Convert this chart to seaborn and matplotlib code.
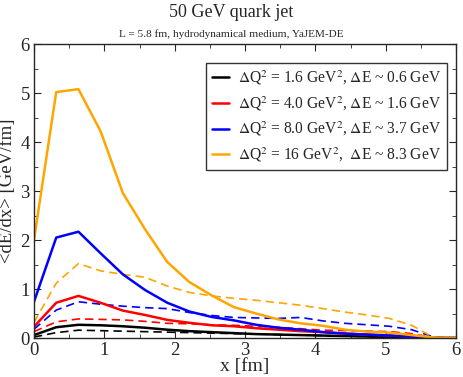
import numpy as np
import pandas as pd
import matplotlib
matplotlib.use('Agg')
import matplotlib.pyplot as plt
import seaborn as sns

# positions along the path [fm]
x_fm = [0.0, 0.316, 0.632, 0.947, 1.263, 1.579, 1.895, 2.211, 2.526, 2.842,
        3.158, 3.474, 3.789, 4.105, 4.421, 4.737, 5.053, 5.368, 5.684, 6.0]

# solid curves
black_solid = [0.06, 0.22, 0.27, 0.26, 0.24, 0.21, 0.17, 0.14, 0.12, 0.10,
               0.08, 0.07, 0.06, 0.05, 0.04, 0.03, 0.02, 0.01, 0.0, 0.0]
red_solid = [0.23, 0.72, 0.86, 0.72, 0.56, 0.47, 0.37, 0.31, 0.26, 0.24,
             0.20, 0.17, 0.14, 0.12, 0.09, 0.07, 0.05, 0.03, 0.0, 0.0]
blue_solid = [0.74, 2.05, 2.17, 1.73, 1.30, 0.98, 0.72, 0.54, 0.43, 0.36,
              0.27, 0.21, 0.17, 0.12, 0.09, 0.07, 0.05, 0.03, 0.0, 0.0]
orange_solid = [2.0, 5.02, 5.08, 4.22, 2.96, 2.22, 1.55, 1.14, 0.87, 0.63,
                0.50, 0.38, 0.30, 0.25, 0.17, 0.13, 0.11, 0.06, 0.01, 0.0]

# dashed curves
black_dashed = [0.02, 0.11, 0.16, 0.15, 0.14, 0.13, 0.12, 0.11, 0.10, 0.09,
                0.08, 0.07, 0.06, 0.05, 0.04, 0.03, 0.02, 0.01, 0.0, 0.0]
red_dashed = [0.13, 0.33, 0.39, 0.38, 0.37, 0.34, 0.30, 0.29, 0.27, 0.26,
              0.24, 0.22, 0.19, 0.16, 0.15, 0.14, 0.13, 0.09, 0.0, 0.0]
blue_dashed = [0.18, 0.57, 0.74, 0.69, 0.65, 0.62, 0.60, 0.52, 0.46, 0.42,
               0.41, 0.40, 0.42, 0.35, 0.30, 0.27, 0.24, 0.17, 0.02, 0.0]
orange_dashed = [0.32, 1.12, 1.52, 1.37, 1.30, 1.24, 1.06, 0.93, 0.86, 0.81,
                 0.77, 0.72, 0.67, 0.60, 0.53, 0.47, 0.40, 0.26, 0.01, 0.0]

labels = [r'$\Delta$Q$^2$ = 1.6 GeV$^2$, $\Delta$E ~ 0.6 GeV',
          r'$\Delta$Q$^2$ = 4.0 GeV$^2$, $\Delta$E ~ 1.6 GeV',
          r'$\Delta$Q$^2$ = 8.0 GeV$^2$, $\Delta$E ~ 3.7 GeV',
          r'$\Delta$Q$^2$ = 16 GeV$^2$,  $\Delta$E ~ 8.3 GeV']
colors = ['black', '#ff0000', '#0000ff', '#ffa500']

sns.set_style('ticks')
plt.rcParams['font.family'] = ['Liberation Serif', 'DejaVu Serif']
plt.rcParams['mathtext.fontset'] = 'stix'

fig = plt.figure(figsize=(4.63, 3.77), dpi=100)
ax = fig.add_axes([0.0734, 0.1034, 0.9116, 0.7796])

solids = [black_solid, red_solid, blue_solid, orange_solid]
dashed = [black_dashed, red_dashed, blue_dashed, orange_dashed]

# dashed first so solid lines sit on top
for ys, c in zip(dashed, colors):
    sns.lineplot(x=x_fm, y=ys, ax=ax, color=c, lw=1.2,
                 linestyle=(0, (5, 3)), legend=False)

handles = []
for ys, c, lab in zip(solids, colors, labels):
    sns.lineplot(x=x_fm, y=ys, ax=ax, color=c, lw=1.8, legend=False)
    handles.append(ax.lines[-1])

ax.set_xlim(0, 6)
ax.set_ylim(0, 6)
ax.set_xticks(range(7))
ax.set_yticks(range(7))
ax.set_xticks(np.arange(0.5, 6, 1), minor=True)
ax.set_yticks(np.arange(0.5, 6, 1), minor=True)
ax.tick_params(which='both', direction='in', top=True, right=True,
               labelsize=13.5, pad=3)
ax.tick_params(which='major', length=5)
ax.tick_params(which='minor', length=3)
for sp in ax.spines.values():
    sp.set_visible(True)
    sp.set_linewidth(1.0)

ax.set_xlabel('x [fm]', fontsize=14, labelpad=-1)
ax.set_ylabel('<dE/dx> [GeV/fm]', fontsize=13.5, labelpad=3)

leg = ax.legend(handles, labels, loc='upper right', bbox_to_anchor=(0.978, 0.935),
                fontsize=11.2, frameon=True, fancybox=False, handlelength=1.1,
                handletextpad=0.6, borderpad=0.35, labelspacing=0.45,
                borderaxespad=0)
leg.get_frame().set_edgecolor('black')
leg.get_frame().set_linewidth(1.0)

fig.text(0.5, 0.967, '50 GeV quark jet', ha='center', va='center', fontsize=13)
fig.text(0.5, 0.91, 'L = 5.8 fm, hydrodynamical medium, YaJEM-DE',
         ha='center', va='center', fontsize=8.1)

fig.savefig('out.png', dpi=100)
